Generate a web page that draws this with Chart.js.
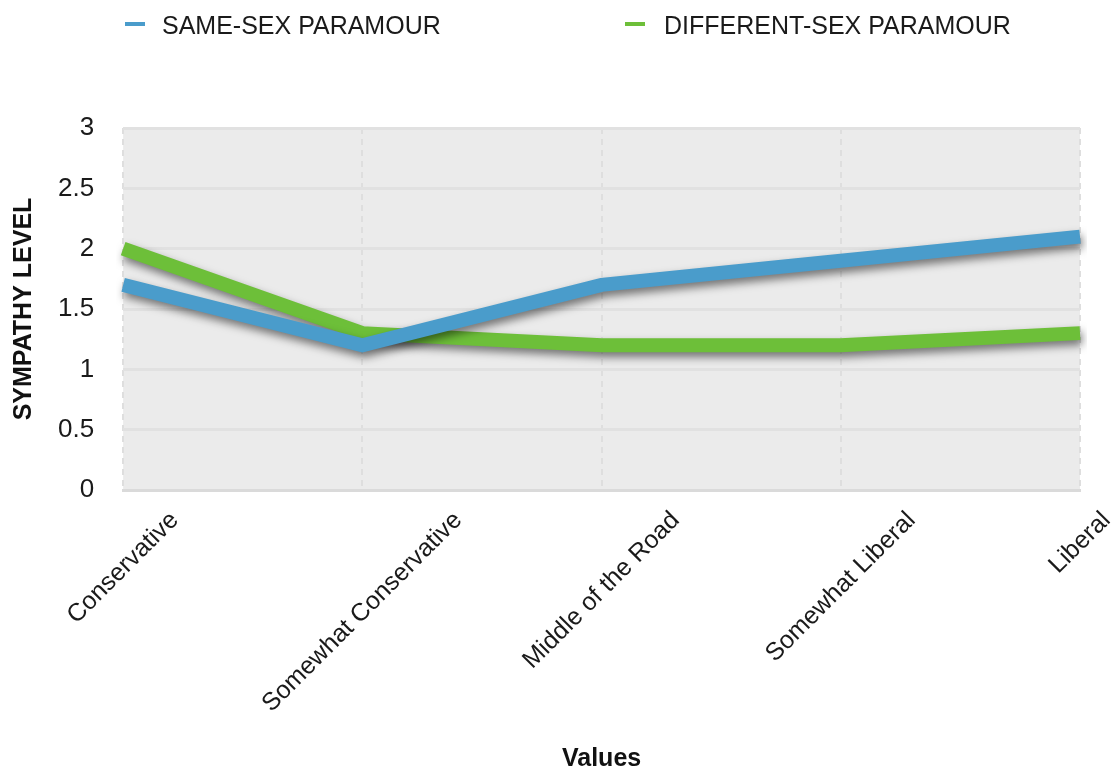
<!DOCTYPE html>
<html>
<head>
<meta charset="utf-8">
<title>Sympathy Level</title>
<script src="https://cdn.jsdelivr.net/npm/chart.js@4.4.0/dist/chart.umd.min.js"></script>
<style>
body{margin:0;background:#fff;font-family:"Liberation Sans",Arial,sans-serif;}
#wrap{position:relative;width:1118px;height:768px;}
.mark{position:absolute;top:22px;width:20px;height:4px;}
.lbl{position:absolute;top:13px;font-size:25px;line-height:25px;color:#1a1a1a;white-space:nowrap;}
</style>
</head>
<body>
<div id="wrap">
  <canvas id="myChart" width="1118" height="768"></canvas>
  <div class="mark" style="left:125px;background:#4a9ccb"></div>
  <div class="lbl" style="left:162px">SAME-SEX PARAMOUR</div>
  <div class="mark" style="left:625px;background:#6dbf39"></div>
  <div class="lbl" style="left:664px">DIFFERENT-SEX PARAMOUR</div>
</div>
<script>
const categories = ["Conservative", "Somewhat Conservative", "Middle of the Road", "Somewhat Liberal", "Liberal"];
const sameSex = [1.7, 1.2, 1.7, 1.9, 2.1];
const differentSex = [2.0, 1.3, 1.2, 1.2, 1.3];
const seriesNames = ["SAME-SEX PARAMOUR", "DIFFERENT-SEX PARAMOUR"];
const yTicks = [0, 0.5, 1, 1.5, 2, 2.5, 3];

const blue = "#4a9ccb";
const green = "#6dbf39";
const labelFont = '25px "Liberation Sans", Arial, sans-serif';

// grey plot background
const plotBg = {
    id: "plotBg",
    beforeDraw(chart) {
        var a = chart.chartArea;
        var ctx = chart.ctx;
        ctx.save();
        ctx.fillStyle = "#ebebeb";
        ctx.fillRect(a.left, a.top, a.right - a.left, a.bottom - a.top);
        ctx.restore();
    }
};

// drop shadow under the lines
const lineShadow = {
    id: "lineShadow",
    beforeDatasetsDraw(chart) {
        var ctx = chart.ctx;
        ctx.save();
        ctx.shadowColor = "rgba(0,0,0,0.5)";
        ctx.shadowBlur = 9;
        ctx.shadowOffsetX = 2;
        ctx.shadowOffsetY = 5;
    },
    afterDatasetsDraw(chart) {
        chart.ctx.restore();
    }
};

// rotated category labels, centred under each tick
const xLabels = {
    id: "xLabels",
    afterDraw(chart) {
        var ctx = chart.ctx;
        var scale = chart.scales.x;
        ctx.save();
        ctx.font = labelFont;
        ctx.fillStyle = "#1a1a1a";
        ctx.textAlign = "center";
        ctx.textBaseline = "middle";
        for (let i = 0; i < categories.length; i++) {
            var x = scale.getPixelForTick(i);
            var w = ctx.measureText(categories[i]).width;
            var cy = scale.top + 20 + Math.SQRT1_2 * (w / 2 + 9);
            ctx.save();
            ctx.translate(x, cy);
            ctx.rotate(-Math.PI / 4);
            ctx.fillText(categories[i], 0, 0);
            ctx.restore();
        }
        ctx.restore();
    }
};

new Chart("myChart", {
    type: "line",
    data: {
        labels: categories,
        datasets: [{
            label: seriesNames[0],
            data: sameSex,
            borderColor: blue,
            backgroundColor: blue,
            borderWidth: 14,
            borderJoinStyle: "miter",
            pointRadius: 0,
            tension: 0
        }, {
            label: seriesNames[1],
            data: differentSex,
            borderColor: green,
            backgroundColor: green,
            borderWidth: 14,
            borderJoinStyle: "miter",
            pointRadius: 0,
            tension: 0
        }]
    },
    options: {
        responsive: false,
        animation: false,
        layout: { padding: { top: 128, right: 38, left: 0, bottom: 0 } },
        plugins: {
            legend: { display: false },
            tooltip: { enabled: false }
        },
        scales: {
            x: {
                ticks: { display: false },
                grid: { color: "#dedede", lineWidth: 2, drawTicks: false },
                border: { display: true, color: "#dadada", width: 3, dash: [6, 5] },
                title: {
                    display: true,
                    text: "Values",
                    color: "#111",
                    font: { family: "Liberation Sans", size: 25, weight: "bold" },
                    padding: { top: 254, bottom: -6 }
                }
            },
            y: {
                min: 0,
                max: 3,
                afterBuildTicks: function(axis) {
                    axis.ticks = yTicks.map(v => ({ value: v }));
                },
                ticks: {
                    color: "#1a1a1a",
                    padding: 29,
                    font: { family: "Liberation Sans", size: 26 },
                    callback: function(value) {
                        return String(value);
                    }
                },
                grid: { color: "#e1e1e1", lineWidth: 3, drawTicks: false },
                border: { display: false },
                title: {
                    display: true,
                    text: "SYMPATHY LEVEL",
                    color: "#111",
                    font: { family: "Liberation Sans", size: 25, weight: "bold" },
                    padding: { top: 9, bottom: -10 }
                }
            }
        }
    },
    plugins: [plotBg, lineShadow, xLabels]
});
</script>
</body>
</html>
